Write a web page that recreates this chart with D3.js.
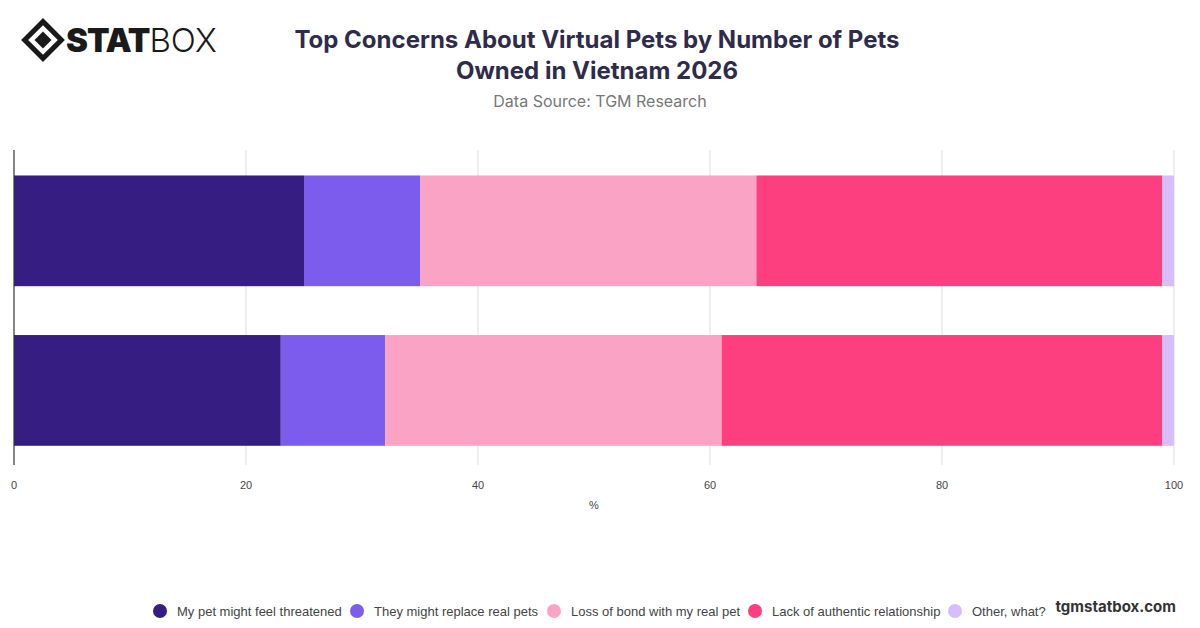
<!DOCTYPE html>
<html lang="en">
<head>
<meta charset="utf-8">
<title>Top Concerns About Virtual Pets</title>
<script src="https://cdn.jsdelivr.net/npm/d3@7"></script>
<style>
  body { margin: 0; background: #fff; font-family: "Inter", "Liberation Sans", sans-serif; }
  svg text { font-family: "Inter", "Liberation Sans", sans-serif; }
  svg text.plain { font-family: "Liberation Sans", Arial, sans-serif; }
</style>
</head>
<body>
<svg id="chart" width="1200" height="628"></svg>
<script>
// data
var groups = ["g1", "g2"];   // category labels are not shown in the chart
var seriesNames = ["My pet might feel threatened", "They might replace real pets", "Loss of bond with my real pet", "Lack of authentic relationship", "Other, what?"];
var seriesColors = ["#361d82", "#7c5ced", "#fba3c4", "#fd3f80", "#d7bdfb"];
var threatened = [25, 23];
var replace = [10, 9];
var lossBond = [29, 29];
var lackAuthentic = [35, 38];
var other = [1, 1];
var xTicks = [0, 20, 40, 60, 80, 100];

var svg = d3.select('#chart');

// logo
var logo = svg.append('g').attr('transform', 'translate(27,40)');
logo.append('rect').attr('x', -13).attr('y', -13).attr('width', 26).attr('height', 26)
    .attr('transform', 'translate(16,0) rotate(45)').attr('fill', 'none').attr('stroke', '#1a1a1a').attr('stroke-width', 5);
logo.append('rect').attr('x', -6).attr('y', -6).attr('width', 12).attr('height', 12)
    .attr('transform', 'translate(16,0) rotate(45)').attr('fill', '#1a1a1a');
logo.append('text').attr('x', 39).attr('y', 12).attr('font-size', 33).attr('font-weight', 900)
    .attr('fill', '#1a1a1a').attr('letter-spacing', -1).text('STAT')
  .append('tspan').attr('font-weight', 300).attr('letter-spacing', 0).text('BOX');

// titles
svg.append('text').attr('x', 597).attr('y', 48).attr('text-anchor', 'middle')
    .attr('font-size', 24).attr('font-weight', 700).attr('fill', '#2f2b4a')
    .text('Top Concerns About Virtual Pets by Number of Pets');
svg.append('text').attr('x', 597).attr('y', 79).attr('text-anchor', 'middle')
    .attr('font-size', 24).attr('font-weight', 700).attr('fill', '#2f2b4a')
    .text('Owned in Vietnam 2026');
svg.append('text').attr('x', 600).attr('y', 107).attr('text-anchor', 'middle')
    .attr('font-size', 16).attr('fill', '#777').text('Data Source: TGM Research');

// scales
var x = d3.scaleLinear().domain([0, 100]).range([14, 1174]);
var y = d3.scaleBand().domain(groups).range([150, 465]).paddingInner(0.306).paddingOuter(0.14).align(0.57);

// grid
svg.append('g').selectAll('line').data(xTicks.slice(1)).join('line')
    .attr('x1', d => x(d)).attr('x2', d => x(d)).attr('y1', 150).attr('y2', 465)
    .attr('stroke', '#ddd');

// stacked bars
var seriesValues = [threatened, replace, lossBond, lackAuthentic, other];
var rows = groups.map(function (g, i) {
    var r = { group: g };
    seriesNames.forEach(function (s, k) { r[s] = seriesValues[k][i]; });
    return r;
});
var stacked = d3.stack().keys(seriesNames)(rows);
svg.append('g').selectAll('g').data(stacked).join('g')
    .attr('fill', (d, i) => seriesColors[i])
  .selectAll('rect').data(d => d).join('rect')
    .attr('x', d => x(d[0])).attr('width', d => x(d[1]) - x(d[0]))
    .attr('y', d => y(d.data.group)).attr('height', y.bandwidth());

// axis line
svg.append('line').attr('x1', x(0)).attr('x2', x(0)).attr('y1', 150).attr('y2', 465)
    .attr('stroke', '#333').attr('stroke-width', 1.2);

// tick labels
svg.append('g').selectAll('text').data(xTicks).join('text').attr('class', 'plain')
    .attr('x', d => x(d)).attr('y', 489).attr('text-anchor', 'middle')
    .attr('font-size', 11).attr('fill', '#444').text(d => d);
svg.append('text').attr('class', 'plain').attr('x', 594).attr('y', 509).attr('text-anchor', 'middle')
    .attr('font-size', 11).attr('fill', '#444').text('%');

// legend
var legendX = [160, 357, 554, 755, 955];
var leg = svg.append('g').selectAll('g').data(seriesNames).join('g')
    .attr('transform', (d, i) => 'translate(' + legendX[i] + ',611)');
leg.append('circle').attr('r', 7).attr('fill', (d, i) => seriesColors[i]);
leg.append('text').attr('class', 'plain').attr('x', 17).attr('y', 5).attr('font-size', 13).attr('fill', '#444').text(d => d);

svg.append('text').attr('x', 1176).attr('y', 612).attr('text-anchor', 'end')
    .attr('font-size', 15).attr('font-weight', 700).attr('fill', '#333').text('tgmstatbox.com');
</script>
</body>
</html>
